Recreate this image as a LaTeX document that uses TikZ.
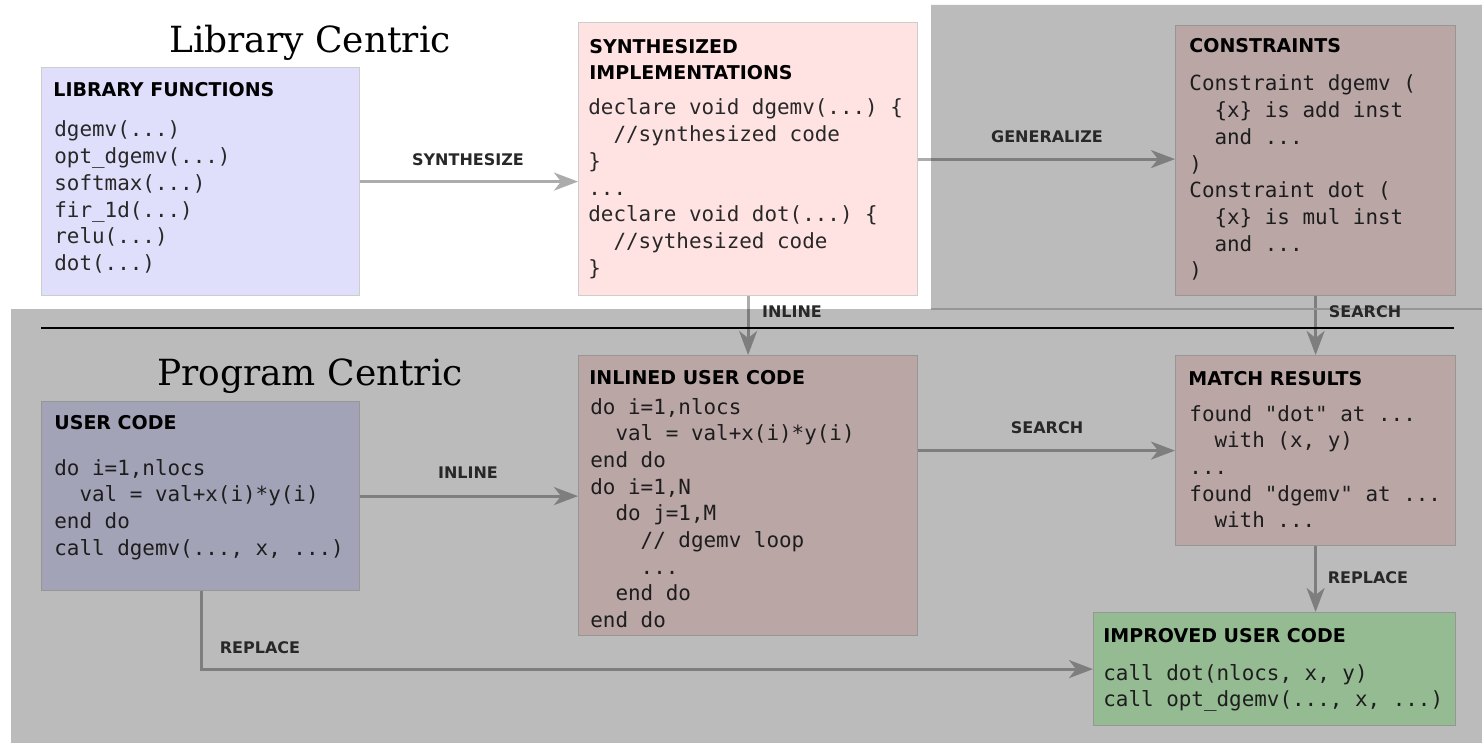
\documentclass[tikz,border=0pt]{standalone}
\usepackage{fontspec}
\setmainfont{DejaVu Serif}
\setsansfont{DejaVu Sans}
\setmonofont{DejaVu Sans Mono}
\usetikzlibrary{arrows.meta}

\definecolor{lav}{RGB}{223,223,251}
\definecolor{rose}{RGB}{255,227,227}
\definecolor{mint}{RGB}{204,255,200}
\definecolor{boxedge}{RGB}{205,205,205}
\definecolor{arrowgrey}{RGB}{172,172,172}
\definecolor{codegrey}{RGB}{40,40,40}
\definecolor{seamgrey}{RGB}{150,150,150}

% indentation by the width of the given characters
\newcommand\cind[1]{\hphantom{#1}}
% a block of code lines, baseline at the first line
\newcommand\codelines[1]{{\ttfamily\fontsize{10.45}{13.35}\selectfont\begin{tabular}[t]{@{}l@{}}#1\end{tabular}}}
\newcommand\hdrlines[1]{{\sffamily\bfseries\fontsize{9.5}{13}\selectfont\begin{tabular}[t]{@{}l@{}}#1\end{tabular}}}

\begin{document}
\begin{tikzpicture}[x=0.5pt,y=-0.5pt,
  box/.style={rectangle, draw=boxedge, line width=0.6pt, inner sep=0, anchor=north west},
  hdr/.style={anchor=base west, inner sep=0, text=black},
  code/.style={anchor=base west, inner sep=0, text=codegrey},
  lbl/.style={inner sep=0, text=codegrey, font=\sffamily\bfseries\fontsize{8}{10}\selectfont},
  title/.style={anchor=base, inner sep=0, font=\fontsize{18}{22}\selectfont},
  arr/.style={draw=arrowgrey, line width=1.5pt, -{Stealth[length=12pt,width=9pt,inset=3.5pt]}}]
\useasboundingbox (0,0) rectangle (1482,743);

% ---- titles
\node[title] (libtitle) at (310,53) {Library Centric};
\node[title] (progtitle) at (310,385) {Program Centric};

% ---- boxes
\node[box, fill=lav,  minimum width=159pt,   minimum height=114pt]  (lib) at (41,67) {};
\node[box, fill=rose, minimum width=169.5pt, minimum height=136.5pt] (syn) at (578,22) {};
\node[box, fill=rose, minimum width=140pt,   minimum height=135pt]  (con) at (1175,25) {};
\node[box, fill=lav,  minimum width=159pt,   minimum height=94.5pt] (usr) at (41,401) {};
\node[box, fill=rose, minimum width=169.5pt, minimum height=140pt]  (inl) at (578,355) {};
\node[box, fill=rose, minimum width=140pt,   minimum height=95pt]   (mat) at (1175,355) {};
\node[box, fill=mint, minimum width=181pt,   minimum height=56.5pt] (imp) at (1093,612) {};

% ---- box contents
\node[hdr] (libhdr) at (53,96.5) {\hdrlines{LIBRARY FUNCTIONS}};
\node[code] (libcode) at (54,137) {\codelines{dgemv(...)\\opt\_dgemv(...)\\softmax(...)\\fir\_1d(...)\\relu(...)\\dot(...)}};

\node[hdr] (synhdr) at (589,53.5) {\hdrlines{SYNTHESIZED\\IMPLEMENTATIONS}};
\node[code] (syncode) at (588,115) {\codelines{declare void dgemv(...) \{\\\cind{xx}//synthesized code\\\}\\...\\declare void dot(...) \{\\\cind{xx}//sythesized code\\\}}};

\node[hdr] (conhdr) at (1189,52.5) {\hdrlines{CONSTRAINTS}};
\node[code] (concode) at (1189,91) {\codelines{Constraint dgemv (\\\cind{xx}\{x\} is add inst\\\cind{xx}and ...\\)\\Constraint dot (\\\cind{xx}\{x\} is mul inst\\\cind{xx}and ...\\)}};

\node[hdr] (usrhdr) at (54,429.5) {\hdrlines{USER CODE}};
\node[code] (usrcode) at (54,475) {\codelines{do i=1,nlocs\\\cind{xx}val = val+x(i)*y(i)\\end do\\call dgemv(..., x, ...)}};

\node[hdr] (inlhdr) at (589,384.5) {\hdrlines{INLINED USER CODE}};
\node[code] (inlcode) at (590,414) {\codelines{do i=1,nlocs\\\cind{xx}val = val+x(i)*y(i)\\end do\\do i=1,N\\\cind{xx}do j=1,M\\\cind{xxxx}// dgemv loop\\\cind{xxxx}...\\\cind{xx}end do\\end do}};

\node[hdr] (mathdr) at (1188,385.5) {\hdrlines{MATCH RESULTS}};
\node[code] (matcode) at (1189,421) {\codelines{found "dot" at ...\\\cind{xx}with (x, y)\\...\\found "dgemv" at ...\\\cind{xx}with ...}};

\node[hdr] (imphdr) at (1103,642.5) {\hdrlines{IMPROVED USER CODE}};
\node[code] (impcode) at (1103,680) {\codelines{call dot(nlocs, x, y)\\call opt\_dgemv(..., x, ...)}};

% ---- connectors
\coordinate (replx) at (201,0);
\draw[arr] (lib.east) -- (lib.east -| syn.west);
\draw[arr] (syn.east) -- (syn.east -| con.west);
\draw[arr] (syn.south) -- (inl.north);
\draw[arr] (con.south) -- (mat.north);
\draw[arr] (usr.east) -- (usr.east -| inl.west);
\draw[arr] (mat.west -| inl.east) -- (mat.west);
\draw[arr] (mat.south) -- (mat.south |- imp.north);
\draw[arr] (usr.south -| replx) |- (imp.west);

% ---- shaded program-centric region
\fill[black, opacity=0.265] (931,5) -- (1482,5) -- (1482,743) -- (11,743) -- (11,309) -- (931,309) -- cycle;
\draw[seamgrey, line width=0.6pt] (931,309) -- (1482,309);

% ---- connector labels
\node[lbl] (lsynth) at (468,160) {SYNTHESIZE};
\node[lbl] (lgen) at (1047,137) {GENERALIZE};
\node[lbl] (linl1) at (792,312) {INLINE};
\node[lbl] (lsrc1) at (1365,312) {SEARCH};
\node[lbl] (linl2) at (468,473) {INLINE};
\node[lbl] (lsrc2) at (1047,428) {SEARCH};
\node[lbl] (lrep1) at (1368,578) {REPLACE};
\node[lbl] (lrep2) at (260,648) {REPLACE};

% ---- separator between the two halves
\draw[black, line width=1.1pt] (41,328) -- (1454,328);
\end{tikzpicture}
\end{document}
